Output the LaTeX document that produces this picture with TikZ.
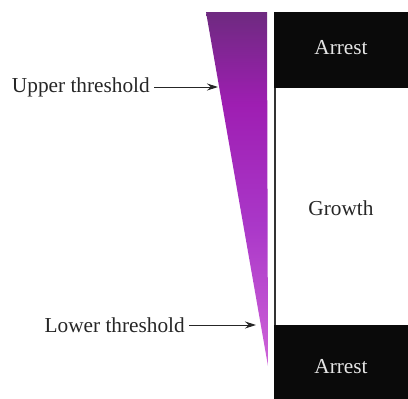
\documentclass[tikz,border=0pt]{standalone}
\usepackage{fontspec}
\setmainfont{Liberation Serif}
\usetikzlibrary{arrows.meta}
\definecolor{wtop}{RGB}{110,42,128}
\definecolor{wvivid}{RGB}{158,30,178}
\definecolor{wmid}{RGB}{170,55,200}
\definecolor{wbot}{RGB}{206,100,216}
\definecolor{boxblack}{RGB}{10,10,10}
\pgfdeclareverticalshading{wedgeshade}{100bp}{%
  color(0bp)=(wbot); color(25bp)=(wbot); color(45bp)=(wmid);
  color(62bp)=(wvivid); color(75bp)=(wtop); color(100bp)=(wtop)}
\begin{document}
\begin{tikzpicture}[x=1pt,y=-1pt,
  lbl/.style={font=\fontsize{21.3}{24}\selectfont, text=black!85, inner sep=4pt},
  boxlbl/.style={font=\fontsize{21.3}{24}\selectfont},
  arr/.style={-{Stealth[length=11pt,width=7pt]}, line width=1pt, black!85}]
\useasboundingbox (0,0) rectangle (408,399);
% wedge
\shade[shading=wedgeshade] (206,12) -- (267,12) -- (268,366) -- cycle;
% column
\fill[boxblack] (274,12) rectangle (408,88);
\fill[boxblack] (274,325) rectangle (408,399);
\draw[line width=1.2pt, black!80] (275,88) -- (275,325);
\node[boxlbl, text=white!90!black] (a1) at (341,48) {Arrest};
\node[boxlbl, text=black!85] (g) at (341,208) {Growth};
\node[boxlbl, text=white!90!black] (a2) at (341,367) {Arrest};
% labels
\node[lbl, anchor=east] (up) at (154,87) {Upper threshold};
\coordinate (upt) at (218,87);
\draw[arr] (up.east) -- (upt);
\node[lbl, anchor=east] (lo) at (189,325) {Lower threshold};
\coordinate (lot) at (256,325);
\draw[arr] (lo.east) -- (lot);
\end{tikzpicture}
\end{document}
